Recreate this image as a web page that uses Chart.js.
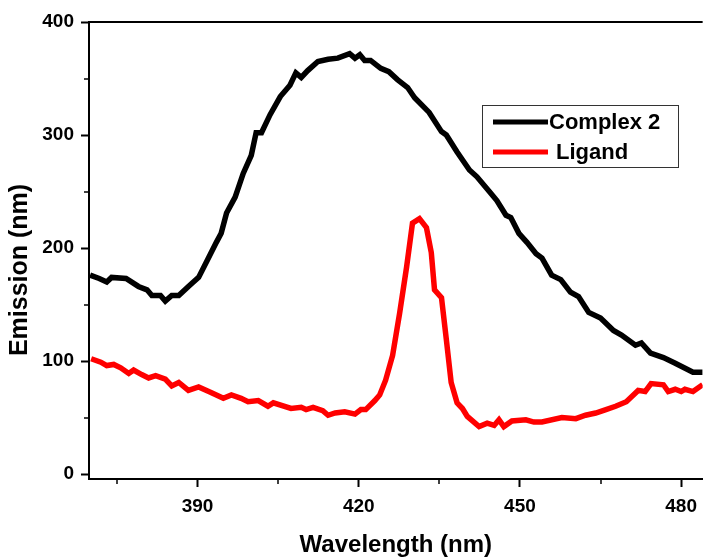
<!DOCTYPE html>
<html>
<head>
<meta charset="utf-8">
<script src="https://cdn.jsdelivr.net/npm/chart.js@4"></script>
<style>
  html, body { margin: 0; padding: 0; background: #fff; }
  #wrap { width: 705px; height: 558px; }
</style>
</head>
<body>
<div id="wrap"><canvas id="emission" width="705" height="558"></canvas></div>
<script>
// Complex 2 emission (black)
const complexWl = [370, 371.7, 373.1, 374, 376.7, 379, 380.6, 381.5, 383.1, 384, 385.2, 386.5, 388.3, 390.2, 391.7, 393.5, 394.4, 395.4, 397, 398.5,
  400, 400.9, 401.9, 403.5, 405.4, 407.2, 408.3, 409.3, 410.5, 412.4, 414.3, 416.1, 418.3, 419.3, 420.2, 421.1, 422.2, 424.1, 425.6, 427.2,
  429.1, 430.4, 433.1, 435.4, 436.3, 438.3, 440.6, 442, 444.3, 445.7, 447.4, 448.3, 449.8, 451.3, 453, 454.1, 455.9, 457.6, 459.4, 460.9,
  462.8, 465, 467.4, 468.9, 471.5, 472.6, 474.3, 476.7, 478.9, 482.2, 484];
const complexVal = [176, 173, 170, 174, 173, 166, 163, 158, 158, 153, 158, 158, 166, 174, 188, 205, 213, 231, 245, 266,
  282, 302, 302, 318, 334, 344, 355, 351, 357, 365, 367, 368, 372, 368, 371, 366, 366, 359, 356, 349,
  342, 333, 320, 303, 300, 285, 269, 263, 250, 242, 229, 227, 213, 205, 195, 191, 176, 172, 161, 157,
  143, 138, 127, 123, 114, 116, 107, 103, 98, 90, 90];

// Ligand emission (red)
const ligandWl = [370.2, 372, 373.1, 374.4, 375.7, 377.2, 378.1, 379.6, 380.9, 382.2, 384, 385.2, 386.5, 388.3, 390.2, 392.6, 394.8, 396.3, 398.1, 399.4,
  401.3, 403.1, 404.1, 407.4, 409.3, 410.2, 411.5, 413.3, 414.3, 415.6, 417.4, 419.3, 420.4, 421.3, 423, 423.9, 425, 426.3, 427.6, 428.9,
  430, 431.3, 432.6, 433.5, 434.1, 435.4, 436.3, 437.2, 438.3, 439.3, 440.2, 442.4, 443.9, 445.2, 446.1, 447, 448.5, 451.1, 452.6, 454.1,
  457.8, 460.4, 462.2, 464.1, 466, 467.8, 469.8, 472, 473.3, 474.4, 476.7, 477.6, 478.9, 480, 480.7, 482.2, 484];
const ligandVal = [102, 99, 96, 97, 94, 89, 92, 88, 85, 87, 84, 78, 81, 74, 77, 72, 67, 70, 67, 64,
  65, 60, 63, 58, 59, 57, 59, 56, 52, 54, 55, 53, 57, 57, 65, 70, 83, 105, 142, 183,
  222, 226, 218, 196, 163, 156, 119, 81, 63, 58, 51, 42, 45, 43, 48, 42, 47, 48, 46, 46,
  50, 49, 52, 54, 57, 60, 64, 74, 73, 80, 79, 73, 75, 73, 75, 73, 79];

const seriesNames = ["Complex 2", "Ligand"];
const seriesColors = ["#000000", "#ff0000"];

const xLabelEvery = 30; // labelled ticks, minor every 15
const yLabelEvery = 100; // labelled ticks, minor every 50

const FONT = "'Liberation Sans', Arial, sans-serif";

function toPoints(xs, ys) {
  return xs.map((x, i) => ({ x: x, y: ys[i] }));
}

// draws the short minor ticks, the top frame line and the y title
const frameTicks = {
  id: "frameTicks",
  afterDraw(chart) {
    const c = chart.ctx;
    const area = chart.chartArea;
    const xs = chart.scales.x;
    const ys = chart.scales.y;
    c.save();
    c.strokeStyle = "#000";
    c.lineWidth = 2;
    // top frame
    c.beginPath();
    c.moveTo(area.left, area.top);
    c.lineTo(area.right, area.top);
    c.stroke();
    // minor ticks
    c.lineWidth = 1.5;
    xs.ticks.forEach(t => {
      if (t.value % xLabelEvery !== 0) {
        const px = Math.round(xs.getPixelForValue(t.value));
        c.beginPath();
        c.moveTo(px, area.bottom);
        c.lineTo(px, area.bottom + 5);
        c.stroke();
      }
    });
    ys.ticks.forEach(t => {
      if (t.value % yLabelEvery !== 0) {
        const py = Math.round(ys.getPixelForValue(t.value));
        c.beginPath();
        c.moveTo(area.left, py);
        c.lineTo(area.left - 5, py);
        c.stroke();
      }
    });
    // y axis title (sits a bit below the plot's middle in the original)
    c.translate(20, 270);
    c.rotate(-Math.PI / 2);
    c.font = "bold 25px " + FONT;
    c.fillStyle = "#000";
    c.textAlign = "center";
    c.textBaseline = "middle";
    c.fillText("Emission (nm)", 0, 0);
    c.restore();
  },
};

// boxed legend inside the plot
const boxLegend = {
  id: "boxLegend",
  afterDraw(chart) {
    const c = chart.ctx;
    const boxX = 482, boxY = 105, boxW = 196, boxH = 62;
    c.save();
    c.strokeStyle = "#333";
    c.lineWidth = 1;
    c.strokeRect(boxX + 0.5, boxY + 0.5, boxW, boxH);
    c.font = "bold 22px " + FONT;
    c.textBaseline = "middle";
    c.fillStyle = "#000";
    chart.data.datasets.forEach((ds, i) => {
      const rowY = boxY + 17 + i * 30;
      c.strokeStyle = ds.borderColor;
      c.lineWidth = 5;
      c.beginPath();
      c.moveTo(boxX + 11, rowY);
      c.lineTo(boxX + 66, rowY);
      c.stroke();
      c.fillText(ds.label, boxX + (i === 0 ? 67 : 74), rowY + 1);
    });
    c.restore();
  },
};

const ctx = document.getElementById("emission").getContext("2d");

const emissionChart = new Chart(ctx, {
  type: "line",
  data: {
    datasets: [
      {
        label: seriesNames[0],
        data: toPoints(complexWl, complexVal),
        borderColor: seriesColors[0],
        borderWidth: 5.5,
        pointRadius: 0,
        tension: 0,
        fill: false,
      },
      {
        label: seriesNames[1],
        data: toPoints(ligandWl, ligandVal),
        borderColor: seriesColors[1],
        borderWidth: 5.5,
        pointRadius: 0,
        tension: 0,
        fill: false,
      },
    ],
  },
  options: {
    responsive: false,
    animation: false,
    layout: { padding: { top: 22, right: 0, left: 0, bottom: 0 } },
    plugins: {
      legend: { display: false },
      tooltip: { enabled: false },
    },
    scales: {
      x: {
        type: "linear",
        min: 369.8,
        max: 484,
        border: { color: "#000", width: 2 },
        grid: {
          drawOnChartArea: false,
          tickLength: 8,
          tickWidth: 2,
          tickColor: c => (c.tick && c.tick.value % xLabelEvery === 0 ? "#000" : "rgba(0,0,0,0)"),
        },
        ticks: {
          stepSize: 15,
          includeBounds: false,
          autoSkip: false,
          maxRotation: 0,
          padding: 8,
          color: "#000",
          font: { family: FONT, size: 19, weight: "bold" },
          callback: v => (v % xLabelEvery === 0 ? v : ""),
        },
        title: {
          display: true,
          text: "Wavelength (nm)",
          color: "#000",
          padding: { top: 0, bottom: -2 },
          font: { family: FONT, size: 24, weight: "bold" },
        },
        afterFit: s => { s.height = 79; },
      },
      y: {
        min: -4.4,
        max: 400,
        border: { color: "#000", width: 2 },
        grid: {
          drawOnChartArea: false,
          tickLength: 8,
          tickWidth: 2,
          tickColor: c => (c.tick && c.tick.value % yLabelEvery === 0 ? "#000" : "rgba(0,0,0,0)"),
        },
        ticks: {
          stepSize: 50,
          includeBounds: false,
          autoSkip: false,
          padding: 7,
          color: "#000",
          font: { family: FONT, size: 19, weight: "bold" },
          callback: v => (v % yLabelEvery === 0 ? v : ""),
        },
        afterFit: s => { s.width = 89; },
      },
    },
  },
  plugins: [frameTicks, boxLegend],
});
</script>
</body>
</html>
